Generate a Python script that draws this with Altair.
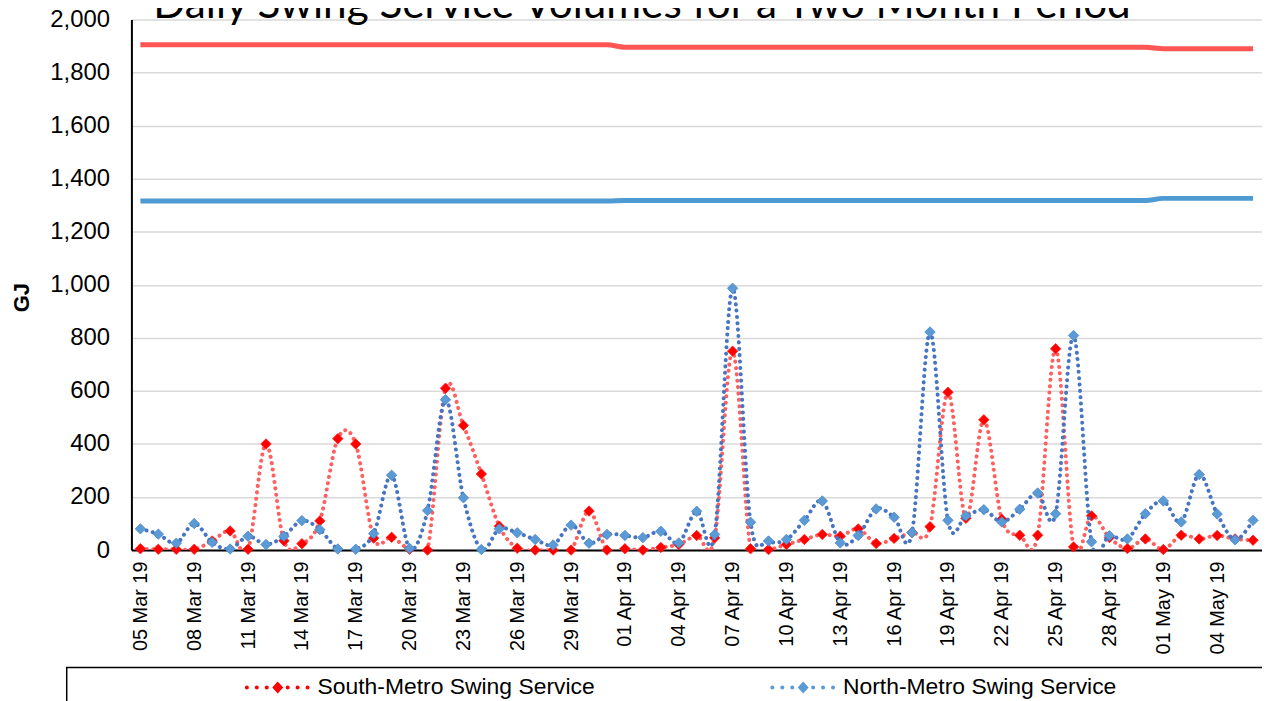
import altair as alt
import pandas as pd

TITLE = "Daily Swing Service Volumes for a Two Month Period"
S_NAME = "South-Metro Swing Service"
N_NAME = "North-Metro Swing Service"

dates = [d.strftime("%d %b %y") for d in pd.date_range("2019-03-05", "2019-05-06")]

south = [5, 3, 3, 3, 34, 72, 3, 400, 35, 24,
         110, 420, 400, 45, 48, 3, 0, 610, 470, 287,
         90, 7, 0, 0, 0, 147, 0, 5, 0, 10,
         21, 55, 46, 750, 5, 2, 21, 40, 59, 52,
         80, 25, 44, 66, 88, 595, 120, 491, 116, 56,
         56, 759, 12, 129, 47, 6, 42, 2, 56, 42,
         55, 42, 37]

north = [80, 60, 26, 100, 29, 4, 52, 21, 52, 111,
         77, 4, 3, 62, 282, 6, 149, 567, 197, 2,
         80, 65, 40, 19, 94, 26, 59, 55, 47, 71,
         27, 146, 59, 987, 105, 34, 40, 112, 185, 27,
         55, 155, 124, 66, 822, 112, 129, 152, 106, 154,
         215, 137, 809, 31, 54, 42, 137, 185, 106, 285,
         136, 39, 112]

south_cap = [1905] * 27 + [1896] * 30 + [1890] * 6
north_cap = [1316] * 27 + [1318] * 30 + [1326] * 6

y_ticks = [0, 200, 400, 600, 800, 1000, 1200, 1400, 1600, 1800, 2000]
x_ticks = dates[::3]

df = pd.DataFrame({
    "date": dates + dates,
    "series": [S_NAME] * len(dates) + [N_NAME] * len(dates),
    "value": south + north,
})
cap = pd.DataFrame({"date": dates, "scap": south_cap, "ncap": north_cap})

FONT = "Liberation Sans"

x_enc = alt.X(
    "date:O", sort=dates,
    scale=alt.Scale(type="point", padding=0.5),
    axis=alt.Axis(values=x_ticks, labelAngle=270, labelFontSize=20, labelFont=FONT,
                  labelColor="black", labelPadding=11, ticks=False, tickSize=0,
                  domainColor="black", domainWidth=2, grid=False, title=None,
                  labelOverlap=False),
)
y_scale = alt.Scale(domain=[0, 2000], nice=False)
y_axis = alt.Axis(values=y_ticks, format=",.0f", labelFontSize=24, labelFont=FONT,
                  labelColor="black", labelPadding=22, ticks=False, tickSize=0,
                  domainColor="black", domainWidth=2, gridColor="#D9D9D9", gridWidth=1.5,
                  title="GJ", titleFont=FONT, titleFontSize=22, titleFontWeight="bold",
                  titleColor="black", titleAngle=270, titleX=-110, titleY=279,
                  titleAlign="center", titleBaseline="middle")

# custom legend symbol: dotted line with a diamond in the middle (unit = half width)
u = 32.0
dot_px = [-31, -21, -11, 10, 20, 30]
r = 2.0 / u
parts = []
for p in dot_px:
    cx = p / u
    parts.append(f"M{cx - r:.4f},0a{r:.4f},{r:.4f} 0 1,0 {2*r:.4f},0a{r:.4f},{r:.4f} 0 1,0 {-2*r:.4f},0Z")
dw, dh = 5.5 / u, 6.0 / u
parts.append(f"M{-dw:.4f},0L0,{-dh:.4f}L{dw:.4f},0L0,{dh:.4f}Z")
sym_path = "".join(parts)

color_scale = alt.Scale(domain=[S_NAME, N_NAME], range=["#FF0000", "#5B9BD5"])
dot_colors = {S_NAME: "#FF5F5F", N_NAME: "#4775C2"}
edge_colors = {S_NAME: "#FF2020", N_NAME: "#4A86C8"}

legend = alt.Legend(orient="none", legendX=115, legendY=639, direction="horizontal",
                    title=None, symbolType=sym_path, symbolSize=4096, symbolStrokeWidth=0,
                    symbolOpacity=1, labelFontSize=23, labelFont=FONT, labelColor="black",
                    labelOffset=8, labelLimit=500, columnPadding=176, padding=0)

base = alt.Chart(df)

y_enc = alt.Y("value:Q", scale=y_scale, axis=y_axis)

cap_red = alt.Chart(cap).mark_line(color="#FF5555", strokeWidth=5, interpolate="monotone").encode(
    x=x_enc, y=alt.Y("scap:Q", scale=y_scale, axis=y_axis))
cap_blue = alt.Chart(cap).mark_line(color="#4E9AD3", strokeWidth=5, interpolate="monotone").encode(
    x=x_enc, y=alt.Y("ncap:Q", scale=y_scale))


def series_layers(name):
    sub = base.transform_filter(alt.datum.series == name)
    line = sub.mark_line(strokeDash=[0.1, 6.3], strokeCap="round", strokeWidth=4,
                         interpolate="cardinal", color=dot_colors[name], clip=True).encode(
        x=x_enc, y=y_enc)
    pts = sub.mark_point(shape="diamond", filled=True, size=110, opacity=1,
                         stroke=edge_colors[name], strokeWidth=0.8, strokeOpacity=1).encode(
        x=x_enc, y=y_enc,
        color=alt.Color("series:N", scale=color_scale, legend=legend))
    return [line, pts]


title_mark = alt.Chart(pd.DataFrame({"t": [TITLE]})).mark_text(
    font="Lato", fontSize=42.5, color="black", align="center", baseline="alphabetic"
).encode(text="t:N", x=alt.value(513), y=alt.value(-2))

box = alt.Chart(pd.DataFrame({"k": [0]})).mark_rect(
    fill=None, stroke="black", strokeWidth=1.5
).encode(x=alt.value(-65), x2=alt.value(1300), y=alt.value(651), y2=alt.value(800))

chart = alt.layer(
    cap_red, cap_blue,
    *series_layers(S_NAME), *series_layers(N_NAME),
    box, title_mark,
).properties(
    width=1136, height=533,
    padding={"left": 124, "top": 10, "right": 0, "bottom": 150},
    autosize=alt.AutoSizeParams(type="none"),
    background="white",
).configure_view(stroke=None)

chart.save("out.html", embed_options={"renderer": "svg", "actions": False})
